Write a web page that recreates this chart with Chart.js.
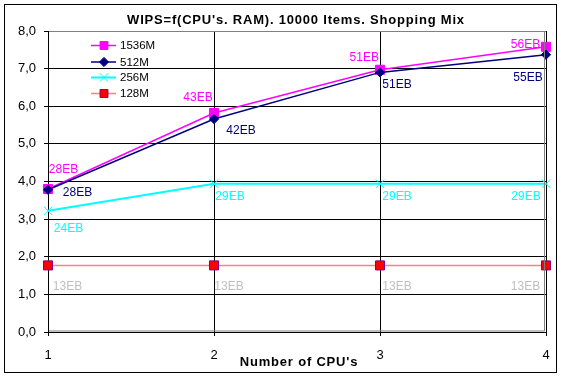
<!DOCTYPE html>
<html><head><meta charset="utf-8">
<script src="https://cdn.jsdelivr.net/npm/chart.js@4/dist/chart.umd.min.js"></script>
<style>html,body{margin:0;padding:0;background:#fff;}#wrap{width:563px;height:380px;position:relative;}</style>
</head><body><div id="wrap"><canvas id="c" width="563" height="380"></canvas></div>
<script>
const titleText = "WIPS=f(CPU's. RAM). 10000 Items. Shopping Mix";
const xTitle = "Number of CPU's";
const cpuCounts = ['1', '2', '3', '4'];
const seriesNames = ['1536M', '512M', '256M', '128M'];
const wips1536 = [3.80, 5.82, 6.97, 7.58];
const wips512 = [3.78, 5.66, 6.90, 7.37];
const wips256 = [3.22, 3.94, 3.94, 3.94];
const wips128 = [1.77, 1.77, 1.77, 1.77];
const labels1536 = ['28EB', '43EB', '51EB', '56EB'];
const labels512 = ['28EB', '42EB', '51EB', '55EB'];
const labels256 = ['24EB', '29EB', '29EB', '29EB'];
const labels128 = ['13EB', '13EB', '13EB', '13EB'];
const yTicks = [0, 1, 2, 3, 4, 5, 6, 7, 8];

// styling (not data)
const FONT = "'Liberation Sans', Arial, sans-serif";
const styles = [
  {line: '#FF00FF', width: 1.5, marker: 'rect', r: 6.4, fill: '#FF00FF', stroke: '#FF00FF', label: '#FF00FF', order: 4},
  {line: '#000080', width: 1.5, marker: 'rectRot', r: 4.6, fill: '#000080', stroke: '#000080', label: '#000080', order: 1},
  {line: '#00FFFF', width: 2, marker: 'crossRot', r: 6, fill: '#00FFFF', stroke: '#00FFFF', label: '#00FFFF', order: 2},
  {line: '#FF8080', width: 1.5, marker: 'rect', r: 6.4, fill: '#FF0000', stroke: '#800080', label: '#C0C0C0', order: 3}
];
// label offsets relative to each point (style)
const labelOffsets = [
  [[15.5, -19], [-16, -15], [-15.7, -12], [-20.5, -2]],
  [[29.5, 3], [27, 11.5], [17, 12], [-18, 23]],
  [[20.5, 18], [16, 13], [17, 13], [-20, 13]],
  [[19.5, 21], [15, 21], [17, 21], [-20.5, 21]]
];

const seriesValues = [wips1536, wips512, wips256, wips128];
const seriesLabels = [labels1536, labels512, labels256, labels128];

function drawMarker(ctx, type, x, y, r, fill, stroke) {
  ctx.save();
  ctx.lineWidth = 1;
  ctx.fillStyle = fill;
  ctx.strokeStyle = stroke;
  ctx.beginPath();
  if (type === 'rect') {
    const s = Math.SQRT1_2 * r;
    ctx.rect(x - s, y - s, 2 * s, 2 * s);
    ctx.fill(); ctx.stroke();
  } else if (type === 'rectRot') {
    ctx.moveTo(x - r, y); ctx.lineTo(x, y - r); ctx.lineTo(x + r, y); ctx.lineTo(x, y + r); ctx.closePath();
    ctx.fill(); ctx.stroke();
  } else if (type === 'crossRot') {
    const s = Math.SQRT1_2 * r;
    ctx.moveTo(x - s, y - s); ctx.lineTo(x + s, y + s);
    ctx.moveTo(x + s, y - s); ctx.lineTo(x - s, y + s);
    ctx.stroke();
  }
  ctx.restore();
}

const decorPlugin = {
  id: 'decor',
  beforeDraw(chart) {
    const ctx = chart.ctx;
    ctx.save();
    ctx.fillStyle = '#fff';
    ctx.fillRect(0, 0, chart.width, chart.height);
    ctx.restore();
  },
  afterDatasetsDraw(chart) {
    const ctx = chart.ctx;
    const ca = chart.chartArea;
    ctx.save();
    // plot frame (gray inner shade on right and bottom)
    ctx.strokeStyle = '#808080';
    ctx.lineWidth = 1;
    ctx.beginPath();
    ctx.moveTo(Math.round(ca.right) - 1.5, ca.top);
    ctx.lineTo(Math.round(ca.right) - 1.5, ca.bottom - 1);
    ctx.lineTo(ca.left + 1, ca.bottom - 1);
    ctx.stroke();
    // data labels
    ctx.font = '12px ' + FONT;
    ctx.textAlign = 'center';
    ctx.textBaseline = 'middle';
    seriesLabels.forEach((labs, si) => {
      const meta = chart.getDatasetMeta(si);
      ctx.fillStyle = styles[si].label;
      meta.data.forEach((pt, i) => {
        const off = labelOffsets[si][i];
        ctx.fillText(labs[i], pt.x + off[0], pt.y + off[1]);
      });
    });
    ctx.restore();
  },
  afterDraw(chart) {
    const ctx = chart.ctx;
    ctx.save();
    // outer border
    ctx.strokeStyle = '#000';
    ctx.lineWidth = 1;
    ctx.strokeRect(4.5, 4.5, 552, 368);
    // title
    ctx.fillStyle = '#000';
    ctx.textAlign = 'center';
    ctx.textBaseline = 'middle';
    ctx.font = 'bold 13px ' + FONT;
    if ('letterSpacing' in ctx) ctx.letterSpacing = '0.8px';
    ctx.fillText(titleText, 296, 20);
    ctx.fillText(xTitle, 299, 362);
    if ('letterSpacing' in ctx) ctx.letterSpacing = '0px';
    // legend
    ctx.font = '11.5px ' + FONT;
    ctx.textAlign = 'left';
    const rowsY = [45.5, 62, 77.5, 93.5];
    seriesNames.forEach((name, i) => {
      const st = styles[i];
      const y = rowsY[i];
      ctx.strokeStyle = st.line;
      ctx.lineWidth = st.width;
      ctx.beginPath();
      ctx.moveTo(91, y);
      ctx.lineTo(116, y);
      ctx.stroke();
      drawMarker(ctx, st.marker, 104, y, st.marker === 'rect' ? 5.6 : st.r, st.fill, st.stroke);
      ctx.fillStyle = '#000';
      ctx.fillText(name, 120, y + 0.5);
    });
    ctx.restore();
  }
};

const datasets = seriesNames.map((name, i) => ({
  label: name,
  data: seriesValues[i],
  borderColor: styles[i].line,
  borderWidth: styles[i].width,
  backgroundColor: styles[i].fill,
  pointStyle: styles[i].marker,
  pointRadius: styles[i].r,
  pointBackgroundColor: styles[i].fill,
  pointBorderColor: styles[i].stroke,
  pointBorderWidth: 1,
  tension: 0,
  fill: false,
  clip: false,
  order: styles[i].order
}));

new Chart(document.getElementById('c'), {
  type: 'line',
  data: {labels: cpuCounts, datasets},
  options: {
    responsive: false,
    animation: false,
    devicePixelRatio: 1,
    layout: {padding: {left: 0, right: 17, top: 31, bottom: 0}},
    plugins: {legend: {display: false}, title: {display: false}, tooltip: {enabled: false}},
    scales: {
      x: {
        type: 'category',
        offset: false,
        grid: {color: '#000', lineWidth: 1, tickLength: 4, offset: false, tickColor: '#000'},
        border: {color: '#000'},
        ticks: {color: '#000', font: {family: FONT, size: 13}, padding: 12, maxRotation: 0, autoSkip: false},
        afterFit(s) { s.height = 48; }
      },
      y: {
        min: 0, max: 8,
        grid: {color: c => (c.tick && c.tick.value === 8) ? '#808080' : '#000', lineWidth: 1, tickLength: 4, tickColor: '#000'},
        border: {color: '#000'},
        ticks: {color: '#000', font: {family: FONT, size: 13}, padding: 8, callback: v => v.toFixed(1).replace('.', ',')},
        afterBuildTicks(s) { s.ticks = yTicks.map(v => ({value: v})); },
        afterFit(s) { s.width = 48; }
      }
    }
  },
  plugins: [decorPlugin]
});
</script>
</body></html>
